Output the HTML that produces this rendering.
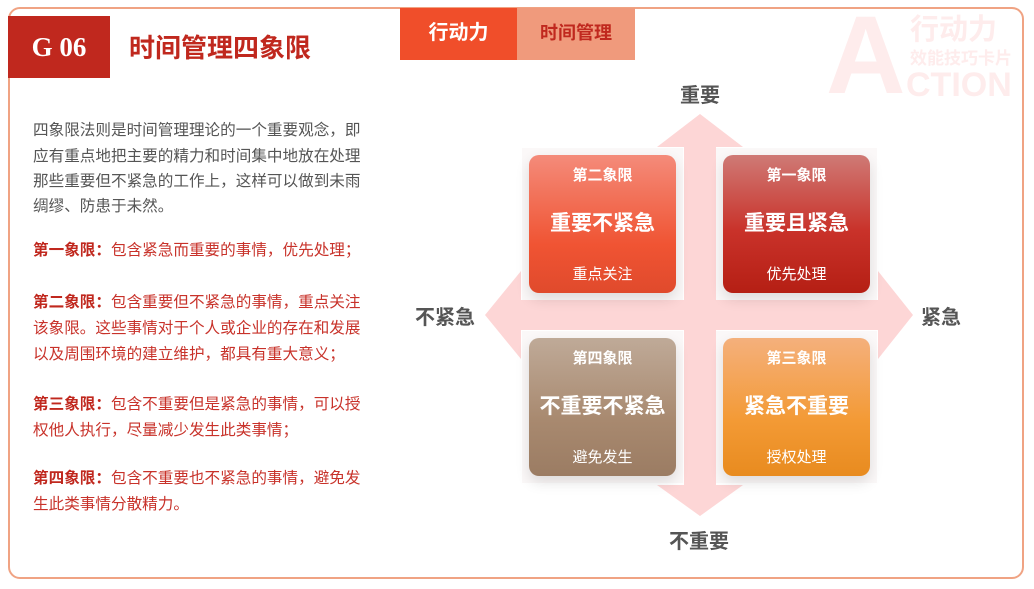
<!DOCTYPE html>
<html><head><meta charset="utf-8"><style>
*{margin:0;padding:0;box-sizing:border-box}
body{width:1034px;height:589px;background:#fff;position:relative;overflow:hidden;font-family:"Liberation Sans","Noto Sans CJK SC",sans-serif}
.a{position:absolute;white-space:nowrap}
.frame{position:absolute;left:8px;top:7px;width:1016px;height:572px;border:2px solid #f0a383;border-radius:12px}
.t{font-size:15.6px;color:#555;left:33px}
.r{color:#c8322a}
.r b{color:#c0281e}
.box{position:absolute;width:147px;height:138px;border-radius:10px;color:#fff;text-align:center;box-shadow:0 6px 14px rgba(0,0,0,.12)}
.box .s{position:absolute;top:9px;left:0;right:0;font-size:15px;font-weight:bold}
.box .m{position:absolute;top:52px;left:0;right:0;font-size:21px;font-weight:bold}
.box .d{position:absolute;top:108px;left:0;right:0;font-size:15px}
.wb{position:absolute;width:161px;height:152px;background:#fbf8f8}
.lab{font-size:20px;font-weight:bold;color:#555}
</style></head><body>
<div class="frame"></div>
<div class="a" style="left:8px;top:16px;width:102px;height:62px;background:#c0281e;color:#fff;font-family:'Liberation Serif',serif;font-weight:bold;font-size:27px;line-height:62px;text-align:center">G 06</div>
<div class="a" style="left:129px;top:28px;font-size:26px;font-weight:bold;color:#c0281e">时间管理四象限</div>
<div class="a" style="left:400px;top:8px;width:117px;height:52px;background:#f04e2a;color:#fff;font-size:20px;font-weight:bold;line-height:50px;text-align:center">行动力</div>
<div class="a" style="left:517px;top:8px;width:118px;height:52px;background:#f09a7c;color:#c0281e;font-size:18px;font-weight:bold;line-height:50px;text-align:center">时间管理</div>
<div class="a" style="left:826px;top:8px;font-size:110px;font-weight:bold;color:#feecec;line-height:96px">A</div>
<div class="a" style="left:910px;top:6px;font-size:29px;font-weight:bold;color:#feecec">行动力</div>
<div class="a" style="left:910px;top:44px;font-size:17px;font-weight:bold;color:#feecec">效能技巧卡片</div>
<div class="a" style="left:906px;top:66px;font-size:34px;font-weight:bold;color:#feecec">CTION</div>

<div class="a t" style="top:118px">四象限法则是时间管理理论的一个重要观念，即</div>
<div class="a t" style="top:144px">应有重点地把主要的精力和时间集中地放在处理</div>
<div class="a t" style="top:169px">那些重要但不紧急的工作上，这样可以做到未雨</div>
<div class="a t" style="top:194px">绸缪、防患于未然。</div>
<div class="a t r" style="top:238px"><b>第一象限：</b>包含紧急而重要的事情，优先处理；</div>
<div class="a t r" style="top:290px"><b>第二象限：</b>包含重要但不紧急的事情，重点关注</div>
<div class="a t r" style="top:316px">该象限。这些事情对于个人或企业的存在和发展</div>
<div class="a t r" style="top:342px">以及周围环境的建立维护，都具有重大意义；</div>
<div class="a t r" style="top:392px"><b>第三象限：</b>包含不重要但是紧急的事情，可以授</div>
<div class="a t r" style="top:418px">权他人执行，尽量减少发生此类事情；</div>
<div class="a t r" style="top:466px"><b>第四象限：</b>包含不重要也不紧急的事情，避免发</div>
<div class="a t r" style="top:492px">生此类事情分散精力。</div>

<svg class="a" style="left:0;top:0" width="1034" height="589">
<g fill="#fdd6d6">
<rect x="684" y="146" width="32" height="340"/>
<rect x="518" y="300" width="362" height="30"/>
<polygon points="657,147 743,147 700,114"/>
<polygon points="657,485 743,485 700,516"/>
<polygon points="521,271 521,359 485,315"/>
<polygon points="878,271 878,359 913,315"/>
</g></svg>
<div class="wb" style="left:522px;top:148px"></div>
<div class="wb" style="left:716px;top:148px"></div>
<div class="wb" style="left:522px;top:331px"></div>
<div class="wb" style="left:716px;top:331px"></div>

<div class="box" style="left:529px;top:155px;background:linear-gradient(#f48b7a,#f05433 65%,#e04a2c)"><div class="s">第二象限</div><div class="m">重要不紧急</div><div class="d">重点关注</div></div>
<div class="box" style="left:723px;top:155px;background:linear-gradient(#cf7a76,#c9322a 55%,#b51f14)"><div class="s">第一象限</div><div class="m">重要且紧急</div><div class="d">优先处理</div></div>
<div class="box" style="left:529px;top:338px;background:linear-gradient(#bfaa98,#a8896f 60%,#9b7c63)"><div class="s">第四象限</div><div class="m">不重要不紧急</div><div class="d">避免发生</div></div>
<div class="box" style="left:723px;top:338px;background:linear-gradient(#f4b07c,#f39a35 60%,#e88b1f)"><div class="s">第三象限</div><div class="m">紧急不重要</div><div class="d">授权处理</div></div>

<div class="a lab" style="left:680px;top:79px">重要</div>
<div class="a lab" style="left:669px;top:525px">不重要</div>
<div class="a lab" style="left:415px;top:301px">不紧急</div>
<div class="a lab" style="left:921px;top:301px">紧急</div>
</body></html>
